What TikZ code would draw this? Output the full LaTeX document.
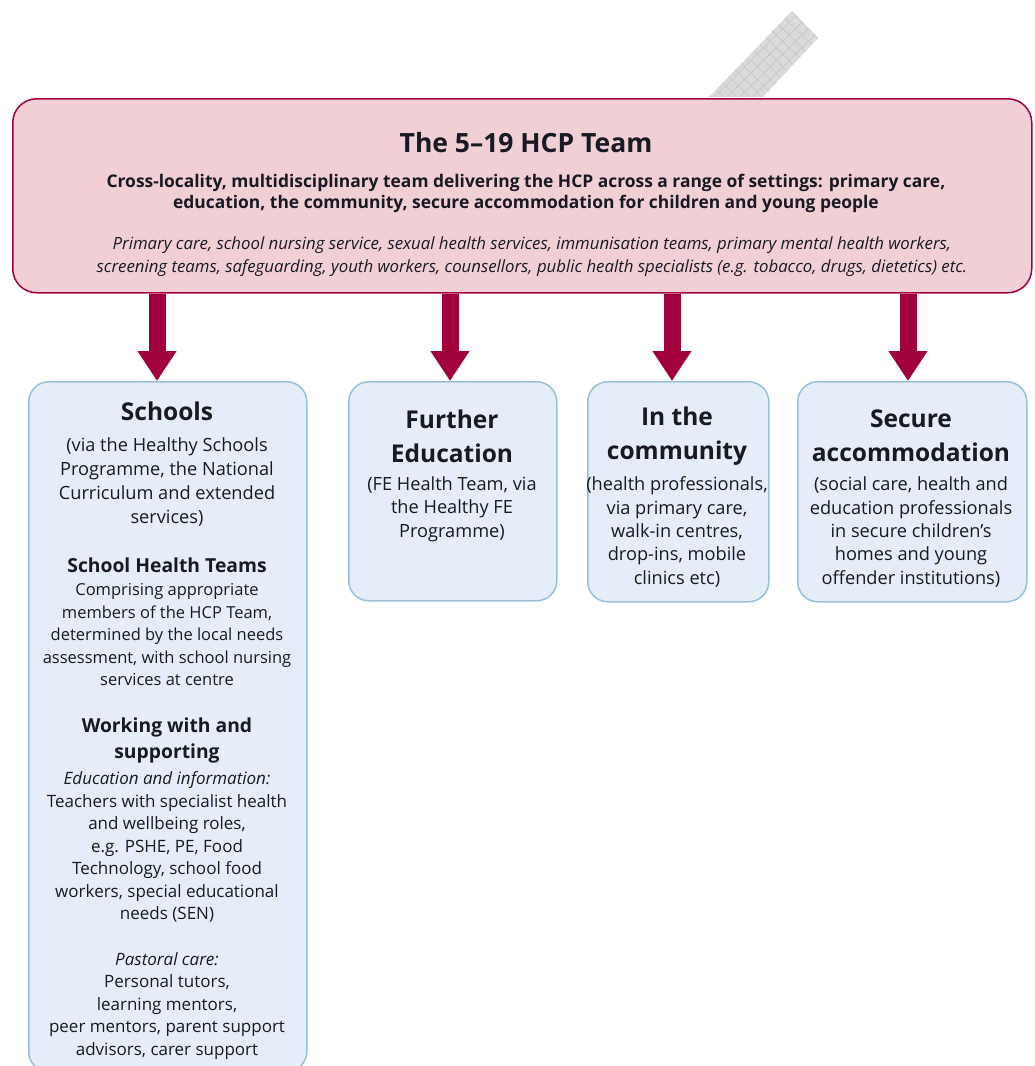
\documentclass[tikz,border=0pt]{standalone}
\usepackage{fontspec}
\setmainfont{Open Sans}
\usetikzlibrary{arrows.meta,patterns.meta}

\definecolor{hcpred}{RGB}{160,0,60}
\definecolor{hcppink}{RGB}{240,207,213}
\definecolor{setfill}{RGB}{229,238,246}
\definecolor{setline}{RGB}{152,192,216}
\definecolor{tabgrey}{RGB}{218,218,218}
\definecolor{inktext}{RGB}{25,25,35}

\newcommand{\fsz}[2]{\fontsize{#1}{#2}\selectfont}

\tikzset{
  teambox/.style={draw=hcpred, fill=hcppink, line width=1.5pt, rounded corners=24pt},
  setbox/.style={draw=setline, fill=setfill, line width=1.5pt, rounded corners=20pt},
  bigarrow/.style={hcpred, line width=17pt, -{Triangle[width=37pt,length=30pt]}},
  txt/.style={align=center, inner sep=0pt, text=inktext},
  boxhead/.style={txt, font=\bfseries\fsz{24.5}{34}},
  subhead/.style={txt, font=\bfseries\fsz{19.3}{26}},
  boxbody/.style={txt, font=\fsz{18.2}{23.3}}
}

\begin{document}
\begin{tikzpicture}[x=1pt,y=-1pt]
    \useasboundingbox (0,0) rectangle (1034,1066);
    \clip (0,0) rectangle (1034,1066);

    % grauer Reiter oben
    \fill[tabgrey] (709,97) -- (792,11) -- (818,38) -- (763,97) -- cycle;
    \fill[pattern={Lines[angle=45,distance=9pt,line width=0.6pt]}, pattern color=gray!45]
        (709,97) -- (792,11) -- (818,38) -- (763,97) -- cycle;
    \fill[pattern={Lines[angle=-45,distance=9pt,line width=0.6pt]}, pattern color=gray!45]
        (709,97) -- (792,11) -- (818,38) -- (763,97) -- cycle;

    % Kasten: HCP Team
    \node[teambox, minimum width=1019pt, minimum height=194pt, anchor=north west] (team) at (12,98) {};
    \node[txt, font=\bfseries\fsz{26.5}{30}] (title) at (526,143) {The 5--19 HCP Team};
    \node[txt, font=\bfseries\fsz{17.4}{21}] (remit) at (526,193)
        {Cross-locality, multidisciplinary team delivering the HCP across a range of settings: primary care,\\
         education, the community, secure accommodation for children and young people};
    \node[txt, font=\itshape\fsz{16.8}{23}] (members) at (532,257)
        {Primary care, school nursing service, sexual health services, immunisation teams, primary mental health workers,\\
         screening teams, safeguarding, youth workers, counsellors, public health specialists (e.g. tobacco, drugs, dietetics) etc.};

    % Kasten: Schools
    \node[setbox, minimum width=278pt, minimum height=690pt, anchor=north west] (schools) at (28,381) {};
    \node[boxhead] (schhead) at (167,411) {Schools};
    \node[boxbody, font=\fsz{18.2}{24}] (schvia) at (167,482)
        {(via the Healthy Schools\\ Programme, the National\\ Curriculum and extended\\ services)};
    \node[subhead] (shthead) at (167,565) {School Health Teams};
    \node[boxbody, font=\fsz{16.5}{22.5}] (shtbody) at (167,635)
        {Comprising appropriate\\ members of the HCP Team,\\ determined by the local needs\\
         assessment, with school nursing\\ services at centre};
    \node[subhead] (workhead) at (167,740) {Working with and\\ supporting};
    \node[boxbody, font=\fsz{17}{22.5}] (edubody) at (167,847)
        {\textit{Education and information:}\\ Teachers with specialist health\\ and wellbeing roles,\\
         e.g. PSHE, PE, Food\\ Technology, school food\\ workers, special educational\\ needs (SEN)};
    \node[boxbody, font=\fsz{17}{22.5}] (pastbody) at (167,1006)
        {\textit{Pastoral care:}\\ Personal tutors,\\ learning mentors,\\ peer mentors, parent support\\ advisors, carer support};

    % Kasten: Further Education
    \node[setbox, minimum width=208pt, minimum height=219pt, anchor=north west] (fe) at (348,381) {};
    \node[boxhead] (fehead) at (452,436) {Further\\ Education};
    \node[boxbody] (febody) at (452,509) {(FE Health Team, via\\ the Healthy FE\\ Programme)};

    % Kasten: In the community
    \node[setbox, minimum width=181pt, minimum height=220pt, anchor=north west] (comm) at (587,381) {};
    \node[boxhead] (commhead) at (677,436) {In the\\ community};
    \node[boxbody] (commbody) at (677,532)
        {(health professionals,\\ via primary care,\\ walk-in centres,\\ drop-ins, mobile\\ clinics etc)};

    % Kasten: Secure accommodation
    \node[setbox, minimum width=229pt, minimum height=220pt, anchor=north west] (secure) at (797,381) {};
    \node[boxhead] (sechead) at (911,436) {Secure\\ accommodation};
    \node[boxbody] (secbody) at (911,532)
        {(social care, health and\\ education professionals\\ in secure children’s\\ homes and young\\ offender institutions)};

    % Pfeile
    \coordinate (x1) at (157,0);
    \coordinate (x2) at (450,0);
    \coordinate (x3) at (672,0);
    \coordinate (x4) at (908,0);
    \draw[bigarrow] (team.south -| x1) -- (schools.north -| x1);
    \draw[bigarrow] (team.south -| x2) -- (fe.north -| x2);
    \draw[bigarrow] (team.south -| x3) -- (comm.north -| x3);
    \draw[bigarrow] (team.south -| x4) -- (secure.north -| x4);
\end{tikzpicture}
\end{document}
